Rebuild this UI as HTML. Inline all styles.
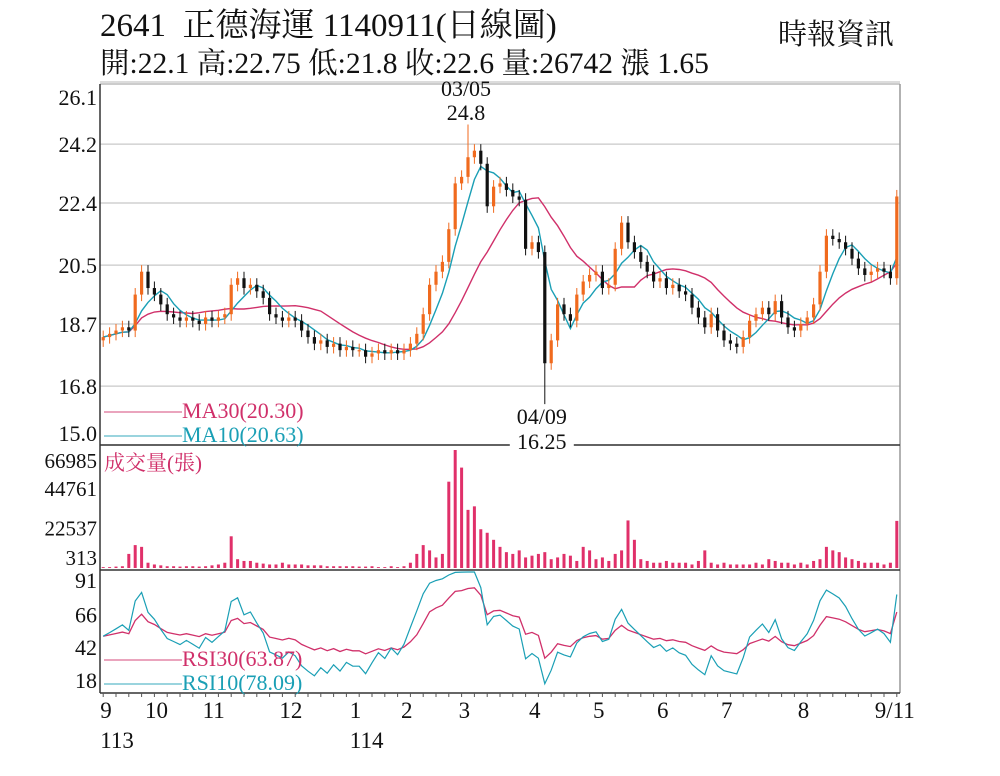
<!DOCTYPE html>
<html><head><meta charset="utf-8"><style>
html,body{margin:0;padding:0;background:#fff;}
body{width:1000px;height:771px;overflow:hidden;font-family:"Liberation Serif","Noto Serif CJK SC",serif;}
svg text{font-family:"Liberation Serif","Noto Serif CJK SC",serif;}
</style></head><body>
<svg id="chart" width="1000" height="771" xmlns="http://www.w3.org/2000/svg">
<text x="100" y="36" font-size="33" fill="#111">2641&#160;&#160;正德海運 1140911(日線圖)</text>
<text x="100" y="73" font-size="29.5" fill="#111">開:22.1 高:22.75 低:21.8 收:22.6 量:26742 漲 1.65</text>
<text x="778" y="44" font-size="29" fill="#111">時報資訊</text>
<g id="g"></g>
</svg>
<script>
const closes=[18.3,18.4,18.5,18.6,18.5,19.6,20.3,19.8,19.6,19.3,
19.0,18.9,18.8,18.9,18.8,18.7,18.9,18.8,18.9,19.0,
19.9,20.1,19.8,19.9,19.7,19.5,19.0,18.9,18.8,18.9,
18.8,18.5,18.3,18.1,18.2,18.0,18.1,17.9,18.0,17.9,
17.9,17.7,17.8,17.9,17.8,17.9,17.8,17.9,18.1,18.4,
19.0,19.9,20.3,20.6,21.6,23.0,23.2,23.8,24.0,23.6,
22.3,22.9,23.0,22.8,22.6,22.5,21.0,21.2,20.9,17.5,
18.2,19.3,19.0,18.8,19.6,20.0,20.2,20.3,19.8,19.9,
21.0,21.8,21.2,20.9,20.6,20.3,20.0,20.1,19.8,19.9,
19.7,19.6,19.2,18.9,18.6,19.0,18.5,18.2,18.1,18.0,
18.3,18.8,19.0,19.2,19.0,19.4,18.9,18.6,18.5,18.7,
18.9,19.3,20.3,21.4,21.3,21.2,21.0,20.7,20.4,20.2,
20.3,20.4,20.3,20.1,22.6];
const volumes=[500,500,800,1000,8000,13000,12000,3000,2000,1500,
1000,1000,800,1000,1000,800,1000,1500,2000,3000,
18000,5000,4000,4000,3000,2500,2000,2000,3000,2000,
2000,2000,1500,1500,1500,1000,1000,1000,1000,1000,
800,800,1000,500,500,1000,500,1000,3000,8000,
13000,10000,6000,8000,49000,66985,57000,33000,35000,22000,
20000,16000,12000,9000,8000,10000,6000,7000,8000,9000,
5000,6000,8000,7000,4000,12000,10000,5000,6000,4000,
8000,10000,27000,16000,5000,4000,3000,3000,4000,3000,
3000,3000,2000,4000,10000,3000,2000,3000,2000,2000,
2000,2000,3000,2000,5000,4000,3000,3000,2000,3000,
2000,4000,5000,12000,10000,9000,6000,5000,4000,3000,
3000,3000,2000,3000,26742];
const priceTicks=[26.1,24.2,22.4,20.5,18.7,16.8,15.0];
const volTicks=[66985,44761,22537,313];
const rsiTicks=[91,66,42,18];
const monthLabels=["9","10","11","12","1","2","3","4","5","6","7","8","9/11"];
const monthIdx=[0,7,16,28,39,47,56,67,77,87,97,109,124];
const yearLabels=["113","114"];
const yearIdx=[0,39];
const highIdx=57, highVal=24.8, lowIdx=69, lowVal=16.25;

const NS="http://www.w3.org/2000/svg", G=document.getElementById('g');
function el(t,a,txt){const e=document.createElementNS(NS,t);for(const k in a)e.setAttribute(k,a[k]);if(txt!==undefined)e.textContent=txt;G.appendChild(e);return e;}
const L=100,R=900,N=closes.length,step=(R-L)/N;
const xi=i=>L+(i+0.5)*step;
const yP=p=>445-(p-15.0)*32.7;
const yV=v=>568-v/66985*118;
const yR=r=>580+(91-r)*1.37;
function clampY(y,a,b){return Math.min(b,Math.max(a,y));}

priceTicks.forEach(t=>{let l=el('line',{x1:L,x2:R,y1:yP(t),y2:yP(t),stroke:'#c8c8c8','stroke-width':1.2});

let tx=el('text',{x:97,y:clampY(yP(t)+8,105,441),'font-size':22,'text-anchor':'end',fill:'#111'},t.toFixed(1));
});
volTicks.forEach(t=>{let tx=el('text',{x:97,y:clampY(yV(t)+7,468,565),'font-size':21,'text-anchor':'end',fill:'#111'},String(t));
});
rsiTicks.forEach(t=>{let tx=el('text',{x:97,y:yR(t)+8,'font-size':22,'text-anchor':'end',fill:'#111'},String(t));
});

[[L,84,R,84,'#bbb'],[L,84,L,693,'#333'],[R,84,R,693,'#999'],[L,445,R,445,'#333'],[L,570,R,570,'#333'],[L,693,R,693,'#333']].forEach(a=>{
let l=el('line',{x1:a[0],y1:a[1],x2:a[2],y2:a[3],stroke:a[4],'stroke-width':1.5});
});
for(let i=0;i<N;i+=2){let l=el('line',{x1:xi(i),x2:xi(i),y1:693,y2:697,stroke:'#555','stroke-width':1});
}

function ma(n){return closes.map((c,i)=>{const s=closes.slice(Math.max(0,i-n+1),i+1);return s.reduce((a,b)=>a+b,0)/s.length;});}
function path(vals,fy){return vals.map((v,i)=>(i?'L':'M')+xi(i).toFixed(1)+','+fy(v).toFixed(1)).join(' ');}
let m30=el('path',{d:path(ma(15),yP),fill:'none',stroke:'#d0306a','stroke-width':1.4});

let m10=el('path',{d:path(ma(5),yP),fill:'none',stroke:'#1a9fb5','stroke-width':1.4});


const bw=Math.max(2,step*0.5);
closes.forEach((c,i)=>{
 const o=i?closes[i-1]:c-0.1;
 let hi=Math.max(o,c)+0.2, lo=Math.min(o,c)-0.2;
 if(i===highIdx)hi=highVal; if(i===lowIdx)lo=lowVal;
 const col=c>=o?'#f06a1e':'#111';
 let w=el('line',{x1:xi(i),x2:xi(i),y1:yP(hi),y2:yP(lo),stroke:col,'stroke-width':1});
 
 const t=yP(Math.max(o,c)),b=yP(Math.min(o,c));
 let r=el('rect',{x:xi(i)-bw/2,y:t,width:bw,height:Math.max(1.2,b-t),fill:col});
 
 let v=el('rect',{x:xi(i)-1.5,y:yV(volumes[i]),width:3,height:568-yV(volumes[i]),fill:'#e0306a'});
 
});

function rsi(n){let ag=0.15,al=0.15;return closes.map((c,i)=>{if(i===0)return 50;const d=c-closes[i-1];
 ag=(ag*(n-1)+Math.max(d,0))/n;al=(al*(n-1)+Math.max(-d,0))/n;return 100*ag/(ag+al);});}
function rsiY(v){return clampY(yR(v),572,691);}
let r30=el('path',{d:path(rsi(18),rsiY),fill:'none',stroke:'#d0306a','stroke-width':1.3});

let r10=el('path',{d:path(rsi(7),rsiY),fill:'none',stroke:'#1a9fb5','stroke-width':1.2});


let a1=el('text',{x:xi(highIdx)-2,y:96,'font-size':22,'text-anchor':'middle',fill:'#111'},'03/05');

let a2=el('text',{x:xi(highIdx)-2,y:120,'font-size':22,'text-anchor':'middle',fill:'#111'},highVal.toFixed(1));

let a3=el('text',{x:xi(lowIdx)-3,y:424,'font-size':22,'text-anchor':'middle',fill:'#111'},'04/09');

let bg=el('rect',{x:xi(lowIdx)-35,y:428,width:64,height:22,fill:'#fff'});

let a4=el('text',{x:xi(lowIdx)-3,y:449,'font-size':22,'text-anchor':'middle',fill:'#111'},lowVal.toFixed(2));


function legend(y,col,label,name){let l=el('line',{x1:104,x2:182,y1:y-6,y2:y-6,stroke:col,'stroke-width':1.2,opacity:0.7});

let t=el('text',{x:182,y:y,'font-size':22,fill:col},label);}
legend(418,'#d0306a','MA30(20.30)','ma30-legend');
legend(442,'#1a9fb5','MA10(20.63)','ma10-legend');
legend(666,'#d0306a','RSI30(63.87)','rsi30-legend');
legend(690,'#1a9fb5','RSI10(78.09)','rsi10-legend');
let vt=el('text',{x:104,y:470,'font-size':21,fill:'#d0306a'},'成交量(張)');


monthLabels.forEach((m,k)=>{const last=k===monthLabels.length-1;
let t=el('text',{x:last?xi(monthIdx[k])-2:xi(monthIdx[k])-3,y:718,'font-size':23,'text-anchor':last?'middle':'start',fill:'#111'},m);
});
yearLabels.forEach((y,k)=>{let t=el('text',{x:xi(yearIdx[k])-3,y:748,'font-size':23,fill:'#111'},y);
});
</script>
</body></html>
